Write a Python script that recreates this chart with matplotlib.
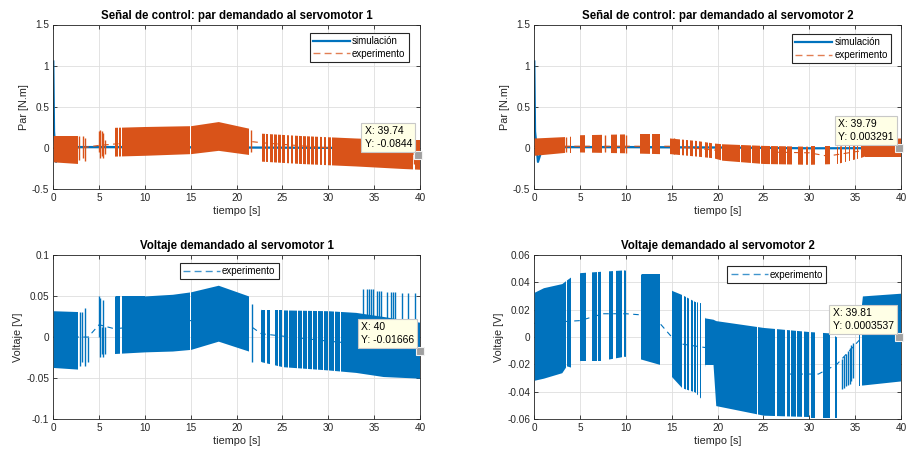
import matplotlib
matplotlib.use("Agg")
import matplotlib.pyplot as plt
from matplotlib.path import Path
from matplotlib.lines import Line2D

plt.rcParams['font.family'] = ['Liberation Sans', 'DejaVu Sans']
plt.rcParams['axes.unicode_minus'] = False

BLUE = '#0072BD'
ORANGE = '#D95319'
DARK = '#262626'

# ---------------- data ----------------
x_ticks = [0, 5, 10, 15, 20, 25, 30, 35, 40]
top_yticks = [-0.5, 0, 0.5, 1, 1.5]
top_ylabels = ['-0.5', '0', '0.5', '1', '1.5']
bl_yticks = [-0.1, -0.05, 0, 0.05, 0.1]
bl_ylabels = ['-0.1', '-0.05', '0', '0.05', '0.1']
br_yticks = [-0.06, -0.04, -0.02, 0, 0.02, 0.04, 0.06]
br_ylabels = ['-0.06', '-0.04', '-0.02', '0', '0.02', '0.04', '0.06']

# simulation (top panels)
tl_sim_t = [0, 0.08, 0.3, 0.6, 1.0, 10, 20, 30, 40]
tl_sim_v = [1.05, 0.2, -0.17, -0.02, 0.01, 0.01, 0.005, 0.0, -0.003]
tr_sim_t = [0, 0.08, 0.4, 0.8, 1.5, 10, 20, 30, 40]
tr_sim_v = [1.05, 0.2, -0.17, -0.03, 0.01, 0.01, 0.005, -0.005, -0.003]

# experiment: envelope of the chattering signal
tl_env_t = [0, 2.7, 6.7, 10, 15, 18, 21.3, 22.5, 27, 33, 38, 40]
tl_env_hi = [0.15, 0.15, 0.25, 0.26, 0.27, 0.32, 0.24, 0.18, 0.15, 0.12, 0.10, 0.10]
tl_env_lo = [-0.17, -0.19, -0.10, -0.09, -0.07, -0.03, -0.08, -0.16, -0.19, -0.22, -0.25, -0.26]
tl_bursts = [(0.0, 2.65), (6.75, 7.05), (7.2, 7.4), (7.55, 14.95), (15.05, 21.3),
             (22.8, 23.05), (23.2, 23.45), (23.65, 23.95), (24.1, 24.4), (24.55, 24.85),
             (25.0, 25.3), (25.45, 25.75), (25.9, 26.2), (26.35, 26.65), (26.8, 27.1),
             (27.25, 27.55), (27.7, 28.0), (28.15, 28.45), (28.6, 28.9), (29.05, 29.35),
             (29.5, 29.8), (29.95, 30.3), (30.45, 39.3), (39.5, 40.0)]
tl_str_t = [2.85, 3.2, 3.5, 5.0, 5.15, 5.3, 5.45, 5.6, 21.6, 39.4]
tl_str_lo = [-0.15, -0.12, -0.16, -0.05, -0.12, -0.10, -0.12, -0.08, -0.05, -0.2]
tl_str_hi = [0.15, 0.14, 0.12, 0.20, 0.22, 0.20, 0.18, 0.10, 0.22, 0.27]
tl_mid_t = [0, 3, 5, 7, 15, 18, 21.3, 23, 30, 40]
tl_mid_v = [0.0, 0.0, 0.03, 0.05, 0.09, 0.14, 0.08, 0.06, 0.0, -0.08]

tr_env_t = [0, 3.8, 5, 10, 13.7, 14.8, 17.7, 19.5, 20.5, 25, 30, 33, 35.5, 36, 40]
tr_env_hi = [0.12, 0.14, 0.16, 0.17, 0.17, 0.12, 0.09, 0.06, 0.05, 0.03, 0.02, 0.02, 0.05, 0.11, 0.12]
tr_env_lo = [-0.09, -0.05, -0.05, -0.06, -0.07, -0.07, -0.10, -0.12, -0.15, -0.19, -0.20, -0.19, -0.12, -0.10, -0.10]
tr_bursts = [(0.0, 3.35), (3.85, 4.0), (5.0, 5.5), (6.3, 7.4), (8.4, 9.0), (9.35, 9.9),
             (11.5, 12.6), (12.8, 13.7), (14.8, 15.9), (16.1, 16.3), (16.5, 16.8),
             (17.0, 17.3), (17.5, 17.8), (18.0, 18.3), (18.6, 18.9), (19.1, 19.4),
             (19.7, 20.4), (20.5, 21.3), (21.4, 22.4), (22.5, 23.6), (23.7, 24.6),
             (24.7, 25.7), (25.8, 26.6), (26.7, 27.5), (27.6, 28.1), (28.8, 29.3),
             (29.6, 29.9), (30.2, 30.6), (31.7, 32.3), (33.0, 33.15), (33.4, 33.55),
             (33.9, 34.05), (34.3, 34.45), (34.8, 34.95), (35.2, 35.35), (35.7, 40.0)]
tr_str_t = [3.5, 7.7, 10.0, 15.2]
tr_str_lo = [-0.05, -0.05, -0.06, -0.07]
tr_str_hi = [0.13, 0.16, 0.16, 0.12]
tr_mid_t = [0, 4, 15, 17, 20, 25, 30, 32, 36, 40]
tr_mid_v = [0.02, 0.02, 0.02, 0.0, -0.03, -0.05, -0.06, -0.10, -0.03, 0.0]

bl_env_t = [0, 2.7, 6.7, 10, 13, 15, 18, 21.3, 22.7, 25, 30, 33, 36, 40]
bl_env_hi = [0.032, 0.031, 0.05, 0.05, 0.052, 0.055, 0.063, 0.05, 0.033, 0.033, 0.032, 0.03, 0.025, 0.018]
bl_env_lo = [-0.037, -0.039, -0.02, -0.018, -0.017, -0.015, -0.005, -0.017, -0.03, -0.036, -0.04, -0.043, -0.048, -0.05]
bl_bursts = [(0.0, 2.65), (6.7, 6.9), (7.0, 7.3), (7.45, 14.95), (15.05, 21.3),
             (22.7, 23.1), (23.3, 23.6), (24.2, 24.55), (24.65, 25.0), (25.15, 25.6),
             (25.7, 26.1), (26.2, 26.6), (26.7, 27.15), (27.25, 27.7), (27.8, 28.25),
             (28.35, 28.8), (28.9, 29.4), (29.5, 30.0), (30.1, 30.6), (30.7, 31.3),
             (31.4, 40.0)]
bl_str_t = [2.9, 3.15, 3.45, 3.75, 5.0, 5.15, 5.3, 5.45, 5.6, 21.7,
            33.8, 34.2, 34.5, 34.7, 34.9, 35.3, 35.5, 35.8, 36.4, 36.9, 37.1, 37.3, 38.0, 38.7, 39.5]
bl_str_lo = [-0.035, -0.03, -0.035, -0.03, 0.0, -0.024, -0.02, -0.024, -0.02, -0.03,
             0.02, 0.02, 0.02, 0.02, 0.02, 0.02, 0.02, 0.02, 0.02, 0.02, 0.02, 0.02, 0.02, 0.02, 0.02]
bl_str_hi = [0.03, 0.03, 0.035, 0.0, 0.05, 0.048, 0.012, 0.045, 0.012, 0.04,
             0.059, 0.058, 0.058, 0.058, 0.058, 0.056, 0.056, 0.056, 0.055, 0.055, 0.055, 0.055, 0.054, 0.054, 0.054]
bl_mid_t = [0, 3.8, 5, 6.7, 15, 18, 21.3, 22.7, 30, 40]
bl_mid_v = [0.0, 0.0, 0.015, 0.01, 0.02, 0.03, 0.015, 0.004, -0.005, -0.015]

br_env_t = [0, 1, 3, 3.5, 4.0, 5.0, 7.3, 9.8, 11.6, 13.7, 15.0, 16.1, 17.5, 18.2, 18.6,
            19.5, 19.8, 25, 30, 32.3, 33.0, 35.3, 35.8, 40]
br_env_hi = [0.0327, 0.036, 0.039, 0.0416, 0.044, 0.047, 0.048, 0.049, 0.046, 0.046, 0.034,
             0.031, 0.026, 0.025, 0.014, 0.013, 0.012, 0.007, 0.004, 0.003, 0.0, 0.0, 0.03, 0.032]
br_env_lo = [-0.0315, -0.03, -0.026, -0.021, -0.022, -0.017, -0.017, -0.014, -0.016, -0.02,
             -0.029, -0.037, -0.04, -0.045, -0.02, -0.02, -0.05, -0.057, -0.058, -0.058,
             -0.058, -0.035, -0.035, -0.032]
br_bursts = [(0.0, 3.5), (3.6, 4.0), (5.0, 5.6), (6.3, 6.8), (6.95, 7.3), (8.2, 8.6),
             (8.9, 9.6), (9.75, 10.0), (11.6, 13.7), (15.0, 16.1), (16.3, 16.5),
             (16.7, 16.9), (17.1, 17.3), (17.45, 17.6), (17.8, 17.9), (18.1, 18.2),
             (18.6, 24.3), (24.45, 26.3), (26.45, 27.4), (27.55, 27.85), (28.05, 28.5),
             (28.65, 29.2), (29.4, 30.0), (30.2, 30.6), (31.5, 32.3), (32.8, 33.0),
             (33.2, 33.3), (35.4, 35.5), (35.8, 40.0)]
br_str_t = [33.6, 33.8, 34.0, 34.2, 34.4, 34.6, 34.8]
br_str_lo = [-0.038, -0.037, -0.036, -0.035, -0.034, -0.032, -0.03]
br_str_hi = [-0.016, -0.014, -0.012, -0.01, -0.008, -0.006, -0.004]
br_mid_t = [0, 5, 7.5, 10, 12, 13.7, 15, 16, 19, 22, 27, 31, 33, 35.5, 40]
br_mid_v = [0.01, 0.012, 0.017, 0.017, 0.016, 0.01, 0.0, -0.005, -0.008, -0.018, -0.027,
            -0.027, -0.02, -0.002, 0.0]

# data tips (x, y)
tips = [(39.74, -0.0844, 'X: 39.74\nY: -0.0844'),
        (39.79, 0.003291, 'X: 39.79\nY: 0.003291'),
        (40, -0.01666, 'X: 40\nY: -0.01666'),
        (39.81, 0.0003537, 'X: 39.81\nY: 0.0003537')]

titles = ['Señal de control: par demandado al servomotor 1',
          'Señal de control: par demandado al servomotor 2',
          'Voltaje demandado al servomotor 1',
          'Voltaje demandado al servomotor 2']
ylabels = ['Par [N.m]', 'Par [N.m]', 'Voltaje [V]', 'Voltaje [V]']


def burst_path(bursts, ylo, yhi):
    verts, codes = [], []
    for a, b in bursts:
        verts += [(a, ylo), (b, ylo), (b, yhi), (a, yhi), (a, ylo)]
        codes += [Path.MOVETO, Path.LINETO, Path.LINETO, Path.LINETO, Path.CLOSEPOLY]
    return Path(verts, codes)


fig = plt.figure(figsize=(9.06, 4.55), dpi=100)
W, H = 906.0, 455.0
pos = [(53.3, 189.0), (534.3, 189.0), (53.3, 419.3), (534.3, 419.3)]
axw, axh = 366.6, 164.5
axes = [fig.add_axes([x / W, (H - y) / H, axw / W, axh / H]) for x, y in pos]

panels = [
    dict(env=(tl_env_t, tl_env_lo, tl_env_hi), bursts=tl_bursts,
         strokes=(tl_str_t, tl_str_lo, tl_str_hi), mid=(tl_mid_t, tl_mid_v),
         sim=(tl_sim_t, tl_sim_v), color=ORANGE, ylim=(-0.5, 1.5),
         yt=(top_yticks, top_ylabels), leg=('upper right', (0.970, 0.951))),
    dict(env=(tr_env_t, tr_env_lo, tr_env_hi), bursts=tr_bursts,
         strokes=(tr_str_t, tr_str_lo, tr_str_hi), mid=(tr_mid_t, tr_mid_v),
         sim=(tr_sim_t, tr_sim_v), color=ORANGE, ylim=(-0.5, 1.5),
         yt=(top_yticks, top_ylabels), leg=('upper right', (0.973, 0.944))),
    dict(env=(bl_env_t, bl_env_lo, bl_env_hi), bursts=bl_bursts,
         strokes=(bl_str_t, bl_str_lo, bl_str_hi), mid=(bl_mid_t, bl_mid_v),
         sim=None, color=BLUE, ylim=(-0.1, 0.1),
         yt=(bl_yticks, bl_ylabels), leg=('upper center', (0.48, 0.953))),
    dict(env=(br_env_t, br_env_lo, br_env_hi), bursts=br_bursts,
         strokes=(br_str_t, br_str_lo, br_str_hi), mid=(br_mid_t, br_mid_v),
         sim=None, color=BLUE, ylim=(-0.06, 0.06),
         yt=(br_yticks, br_ylabels), leg=('upper center', (0.6615, 0.929))),
]

for i, (ax, p) in enumerate(zip(axes, panels)):
    ax.set_xlim(0, 40)
    ax.set_ylim(*p['ylim'])
    ax.grid(True, color='#DEDEDE', lw=0.6)
    ax.set_axisbelow(True)
    c = p['color']
    handles = []
    if p['sim'] is not None:
        ax.plot(p['sim'][0], p['sim'][1], color=BLUE, lw=1.6, zorder=2)
        handles.append(Line2D([], [], color=BLUE, lw=1.6, label='simulación'))
    ax.plot(p['mid'][0], p['mid'][1], color=c, lw=0.8, ls=(0, (5, 4)), zorder=2.5)
    t, lo, hi = p['env']
    poly = ax.fill_between(t, lo, hi, color=c, lw=0, zorder=3)
    ylo, yhi = p['ylim']
    poly.set_clip_path(burst_path(p['bursts'], ylo - 1, yhi + 1), ax.transData)
    st, slo, shi = p['strokes']
    ax.vlines(st, slo, shi, color=c, lw=1.0, zorder=3)
    handles.append(Line2D([], [], color=c, lw=1.0, ls=(0, (5, 3)), alpha=0.75,
                          label='experimento'))
    loc, anchor = p['leg']
    leg = ax.legend(handles=handles, loc=loc, bbox_to_anchor=anchor, borderaxespad=0,
                    fontsize=7, frameon=True, fancybox=False, framealpha=1,
                    edgecolor=DARK, handlelength=3.8, handletextpad=0.2,
                    borderpad=0.35, labelspacing=0.3)
    leg.get_frame().set_linewidth(0.8)
    leg.set_zorder(10)

    ax.set_xticks(x_ticks)
    ax.set_xticklabels([str(v) for v in x_ticks])
    ax.set_yticks(p['yt'][0])
    ax.set_yticklabels(p['yt'][1])
    ax.tick_params(direction='in', length=3, width=0.6, colors=DARK, labelsize=7.2,
                   top=True, right=True, pad=3)
    for s in ax.spines.values():
        s.set_color(DARK)
        s.set_linewidth(0.6)
    ax.set_title(titles[i], fontsize=8.3, fontweight='bold', color='black', pad=4)
    ax.set_xlabel('tiempo [s]', fontsize=7.8, color=DARK, labelpad=2)
    ax.set_ylabel(ylabels[i], fontsize=7.8, color=DARK, labelpad=2)

    tx, ty, txt = tips[i]
    ax.plot([tx], [ty], marker='s', ms=5.5, mfc='#A0A0A0', mec='#F2F2F2', mew=0.8,
            zorder=12, clip_on=False)
    ax.annotate(txt, xy=(tx, ty), xytext=(-4, 4), textcoords='offset points',
                ha='right', va='bottom', multialignment='left', fontsize=7.5,
                color='black', zorder=13, linespacing=1.35,
                bbox=dict(boxstyle='square,pad=0.3', fc='#FFFFE6', ec='#C8C8C8', lw=0.8))

fig.savefig('out.png', dpi=100)
